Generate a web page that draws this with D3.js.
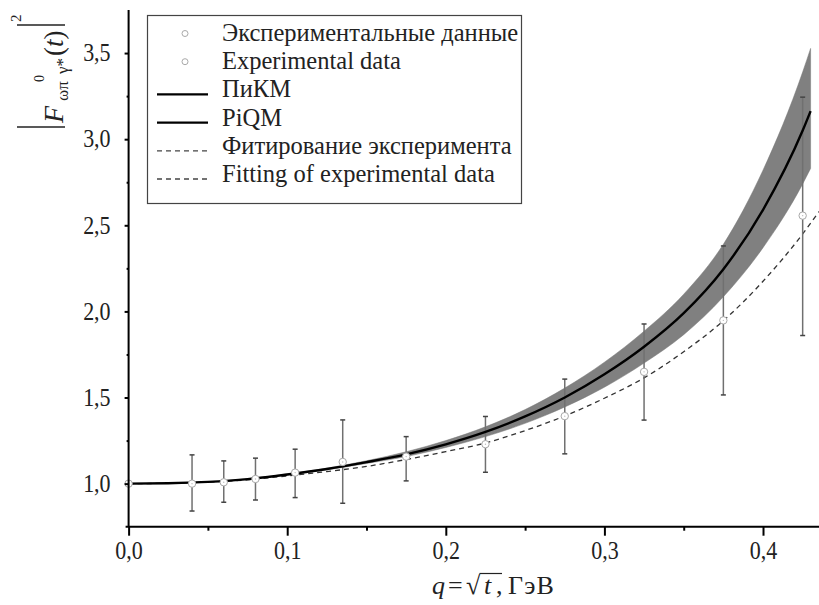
<!DOCTYPE html>
<html><head><meta charset="utf-8">
<script src="https://cdn.jsdelivr.net/npm/d3@7"></script>
<style>body{margin:0;background:#fff} svg text{font-family:"Liberation Serif","Times New Roman",serif;fill:#222}</style>
</head><body><svg id="c" width="819" height="605"></svg>
<script>
// experimental data
const expQ  = [0, 0.04, 0.06, 0.08, 0.105, 0.135, 0.175, 0.225, 0.275, 0.325, 0.375, 0.425];
const expF  = [1.0, 1.0, 1.008, 1.027, 1.064, 1.126, 1.157, 1.229, 1.392, 1.649, 1.948, 2.556];
const expLo = [1.0, 0.841, 0.892, 0.905, 0.919, 0.886, 1.016, 1.066, 1.173, 1.369, 1.515, 1.86];
const expHi = [1.0, 1.167, 1.132, 1.148, 1.2, 1.37, 1.273, 1.39, 1.607, 1.927, 2.38, 3.244];
// PiQM model curve and band
const modelQ = [0, 0.025, 0.05, 0.075, 0.1, 0.125, 0.15, 0.175, 0.2, 0.225, 0.25, 0.275, 0.3, 0.325, 0.35, 0.375, 0.4, 0.425, 0.43];
const piqm   = [1.0, 1.002, 1.010, 1.026, 1.053, 1.085, 1.125, 1.170, 1.228, 1.300, 1.39, 1.50, 1.635, 1.795, 1.99, 2.245, 2.59, 3.05, 3.163];
const piqmLo = [1.0, 1.002, 1.009, 1.024, 1.05, 1.08, 1.117, 1.157, 1.21, 1.273, 1.35, 1.445, 1.56, 1.70, 1.865, 2.085, 2.37, 2.74, 2.83];
const piqmHi = [1.0, 1.002, 1.011, 1.028, 1.056, 1.09, 1.133, 1.185, 1.25, 1.33, 1.43, 1.555, 1.705, 1.885, 2.10, 2.39, 2.82, 3.39, 3.527];
// fit of experiment
const fitQ = [0, 0.025, 0.05, 0.075, 0.1, 0.125, 0.15, 0.175, 0.2, 0.225, 0.25, 0.275, 0.3, 0.325, 0.35, 0.375, 0.4, 0.425, 0.4353];
const fitF = [1.0, 1.002, 1.009, 1.022, 1.045, 1.07, 1.10, 1.14, 1.186, 1.236, 1.308, 1.393, 1.496, 1.614, 1.766, 1.946, 2.175, 2.45, 2.58];
// ticks
const xTicks = [0, 0.1, 0.2, 0.3, 0.4];
const xMinor = [0.05, 0.15, 0.25, 0.35];
const yTicks = [1.0, 1.5, 2.0, 2.5, 3.0, 3.5];
const yMinor = [1.25, 1.75, 2.25, 2.75, 3.25];
const legendLabels = ["Экспериментальные данные", "Experimental data", "ПиКМ", "PiQM", "Фитирование эксперимента", "Fitting of experimental data"];
const legendKinds  = ["point", "point", "solid", "solid", "dash", "dash"];

const FF = "Liberation Serif, Times New Roman, serif";
const svg = d3.select("#c").attr("font-family", FF);
const x = d3.scaleLinear().domain([0, 0.4353]).range([128.6, 819]);
const y = d3.scaleLinear().domain([0.75, 3.75]).range([526.7, 10]);
const comma = d => d3.format(".1f")(d).replace(".", ",");

// band
const band = modelQ.map((q, i) => ({q, lo: piqmLo[i], hi: piqmHi[i]}));
svg.append("path").datum(band)
  .attr("d", d3.area().x(d => x(d.q)).y0(d => y(d.lo)).y1(d => y(d.hi)).curve(d3.curveMonotoneX))
  .attr("fill", "#808080").attr("stroke", "#777").attr("stroke-width", 0.5);

// fit dashed
svg.append("path").datum(fitQ.map((q, i) => [q, fitF[i]]))
  .attr("d", d3.line().x(d => x(d[0])).y(d => y(d[1])).curve(d3.curveMonotoneX))
  .attr("fill", "none").attr("stroke", "#333").attr("stroke-width", 1.3).attr("stroke-dasharray", "5,4");

// error bars
const eb = svg.append("g");
expQ.forEach((q, i) => {
  if (expHi[i] === expLo[i]) return;
  eb.append("line").attr("x1", x(q)).attr("x2", x(q)).attr("y1", y(expLo[i])).attr("y2", y(expHi[i]))
    .attr("stroke", "#707070").attr("stroke-width", 1.5);
  [expLo[i], expHi[i]].forEach(v => eb.append("line").attr("x1", x(q) - 2.5).attr("x2", x(q) + 2.5)
    .attr("y1", y(v)).attr("y2", y(v)).attr("stroke", "#444").attr("stroke-width", 1.5));
});

// PiQM solid
svg.append("path").datum(modelQ.map((q, i) => [q, piqm[i]]))
  .attr("d", d3.line().x(d => x(d[0])).y(d => y(d[1])).curve(d3.curveMonotoneX))
  .attr("fill", "none").attr("stroke", "#000").attr("stroke-width", 2.4);

// points
const pts = svg.append("g");
expQ.forEach((q, i) => {
  pts.append("circle").attr("cx", x(q)).attr("cy", y(expF[i])).attr("r", 3.7)
    .attr("fill", "#fff").attr("stroke", "#a8a8a8").attr("stroke-width", 1);
  pts.append("circle").attr("cx", x(q)).attr("cy", y(expF[i])).attr("r", 0.7).attr("fill", "#bbb");
});

// axes
svg.append("g").attr("transform", `translate(0,${y(0.75)})`)
  .call(d3.axisBottom(x).tickValues(xTicks).tickFormat(comma).tickSize(9).tickPadding(5));
svg.append("g").attr("transform", `translate(0,${y(0.75)})`)
  .call(d3.axisBottom(x).tickValues(xMinor).tickFormat("").tickSize(4));
svg.append("g").attr("transform", `translate(${x(0)},0)`)
  .call(d3.axisLeft(y).tickValues(yTicks).tickFormat(comma).tickSize(4).tickPadding(14));
svg.append("g").attr("transform", `translate(${x(0)},0)`)
  .call(d3.axisLeft(y).tickValues(yMinor).tickFormat("").tickSize(2));
svg.selectAll(".domain").remove();
svg.selectAll(".tick line").attr("stroke", "#000").attr("stroke-width", 2);
svg.selectAll(".tick text").attr("font-family", FF).attr("font-size", 22)
  .attr("fill", "#222").attr("transform", "scale(1,1.1)");
svg.append("line").attr("x1", x(0) - 3).attr("x2", 819).attr("y1", y(0.75)).attr("y2", y(0.75))
  .attr("stroke", "#000").attr("stroke-width", 2);
svg.append("line").attr("x1", x(0)).attr("x2", x(0)).attr("y1", y(3.75)).attr("y2", y(0.75))
  .attr("stroke", "#000").attr("stroke-width", 2);

// x title
const xt = svg.append("g").attr("font-size", 26);
xt.append("text").attr("x", 432).attr("y", 594).attr("font-style", "italic").text("q");
xt.append("text").attr("x", 448).attr("y", 594).text("=");
const rad = xt.append("text").attr("x", 466).attr("y", 594).text("√");
xt.append("text").attr("x", 484).attr("y", 594).attr("font-style", "italic").text("t");
xt.append("text").attr("x", 496).attr("y", 594).text(",");
xt.append("text").attr("x", 508).attr("y", 594).attr("letter-spacing", 1.2).text("ГэВ");
{
  const bb = rad.node().getBBox();
  svg.append("line").attr("x1", bb.x + bb.width - 1.5).attr("x2", 502)
    .attr("y1", bb.y + 2.5).attr("y2", bb.y + 2.5).attr("stroke", "#222").attr("stroke-width", 1.2);
}

// y title (rotated)
const yl = svg.append("g").attr("transform", "translate(63,127) rotate(-90)");
yl.append("line").attr("x1", 0).attr("x2", 0).attr("y1", -46).attr("y2", 2).attr("stroke", "#222").attr("stroke-width", 1.6);
yl.append("line").attr("x1", 102).attr("x2", 102).attr("y1", -46).attr("y2", 2).attr("stroke", "#222").attr("stroke-width", 1.6);
yl.append("text").attr("x", 4).attr("y", 0).attr("font-size", 28).attr("font-style", "italic").text("F");
yl.append("text").attr("x", 26).attr("y", 5).attr("font-size", 17).text("ωπ");
yl.append("text").attr("x", 45).attr("y", -19).attr("font-size", 14).text("0");
yl.append("text").attr("x", 53).attr("y", 5).attr("font-size", 17).text("γ*");
const ypar = yl.append("text").attr("x", 71).attr("y", 0).attr("font-size", 27);
ypar.append("tspan").text("(");
ypar.append("tspan").attr("font-style", "italic").text("t");
ypar.append("tspan").text(")");
yl.append("text").attr("x", 105).attr("y", -42).attr("font-size", 15).text("2");

// legend
const lg = svg.append("g");
lg.append("rect").attr("x", 147.5).attr("y", 15.5).attr("width", 374).attr("height", 188)
  .attr("fill", "#fff").attr("stroke", "#444").attr("stroke-width", 1.2);
legendLabels.forEach((lab, i) => {
  const by = 41 + 28.2 * i;
  const k = legendKinds[i];
  if (k === "point") {
    lg.append("circle").attr("cx", 185).attr("cy", by - 7.5).attr("r", 3)
      .attr("fill", "#fff").attr("stroke", "#aaa").attr("stroke-width", 1);
  } else {
    lg.append("line").attr("x1", 157).attr("x2", 208).attr("y1", by - 3).attr("y2", by - 3)
      .attr("stroke", k === "solid" ? "#000" : "#444")
      .attr("stroke-width", k === "solid" ? 2.2 : 1.3)
      .attr("stroke-dasharray", k === "dash" ? "5,4" : null);
  }
  lg.append("text").attr("x", 222).attr("y", by).attr("font-size", 24.5).text(lab);
});
</script></body></html>
